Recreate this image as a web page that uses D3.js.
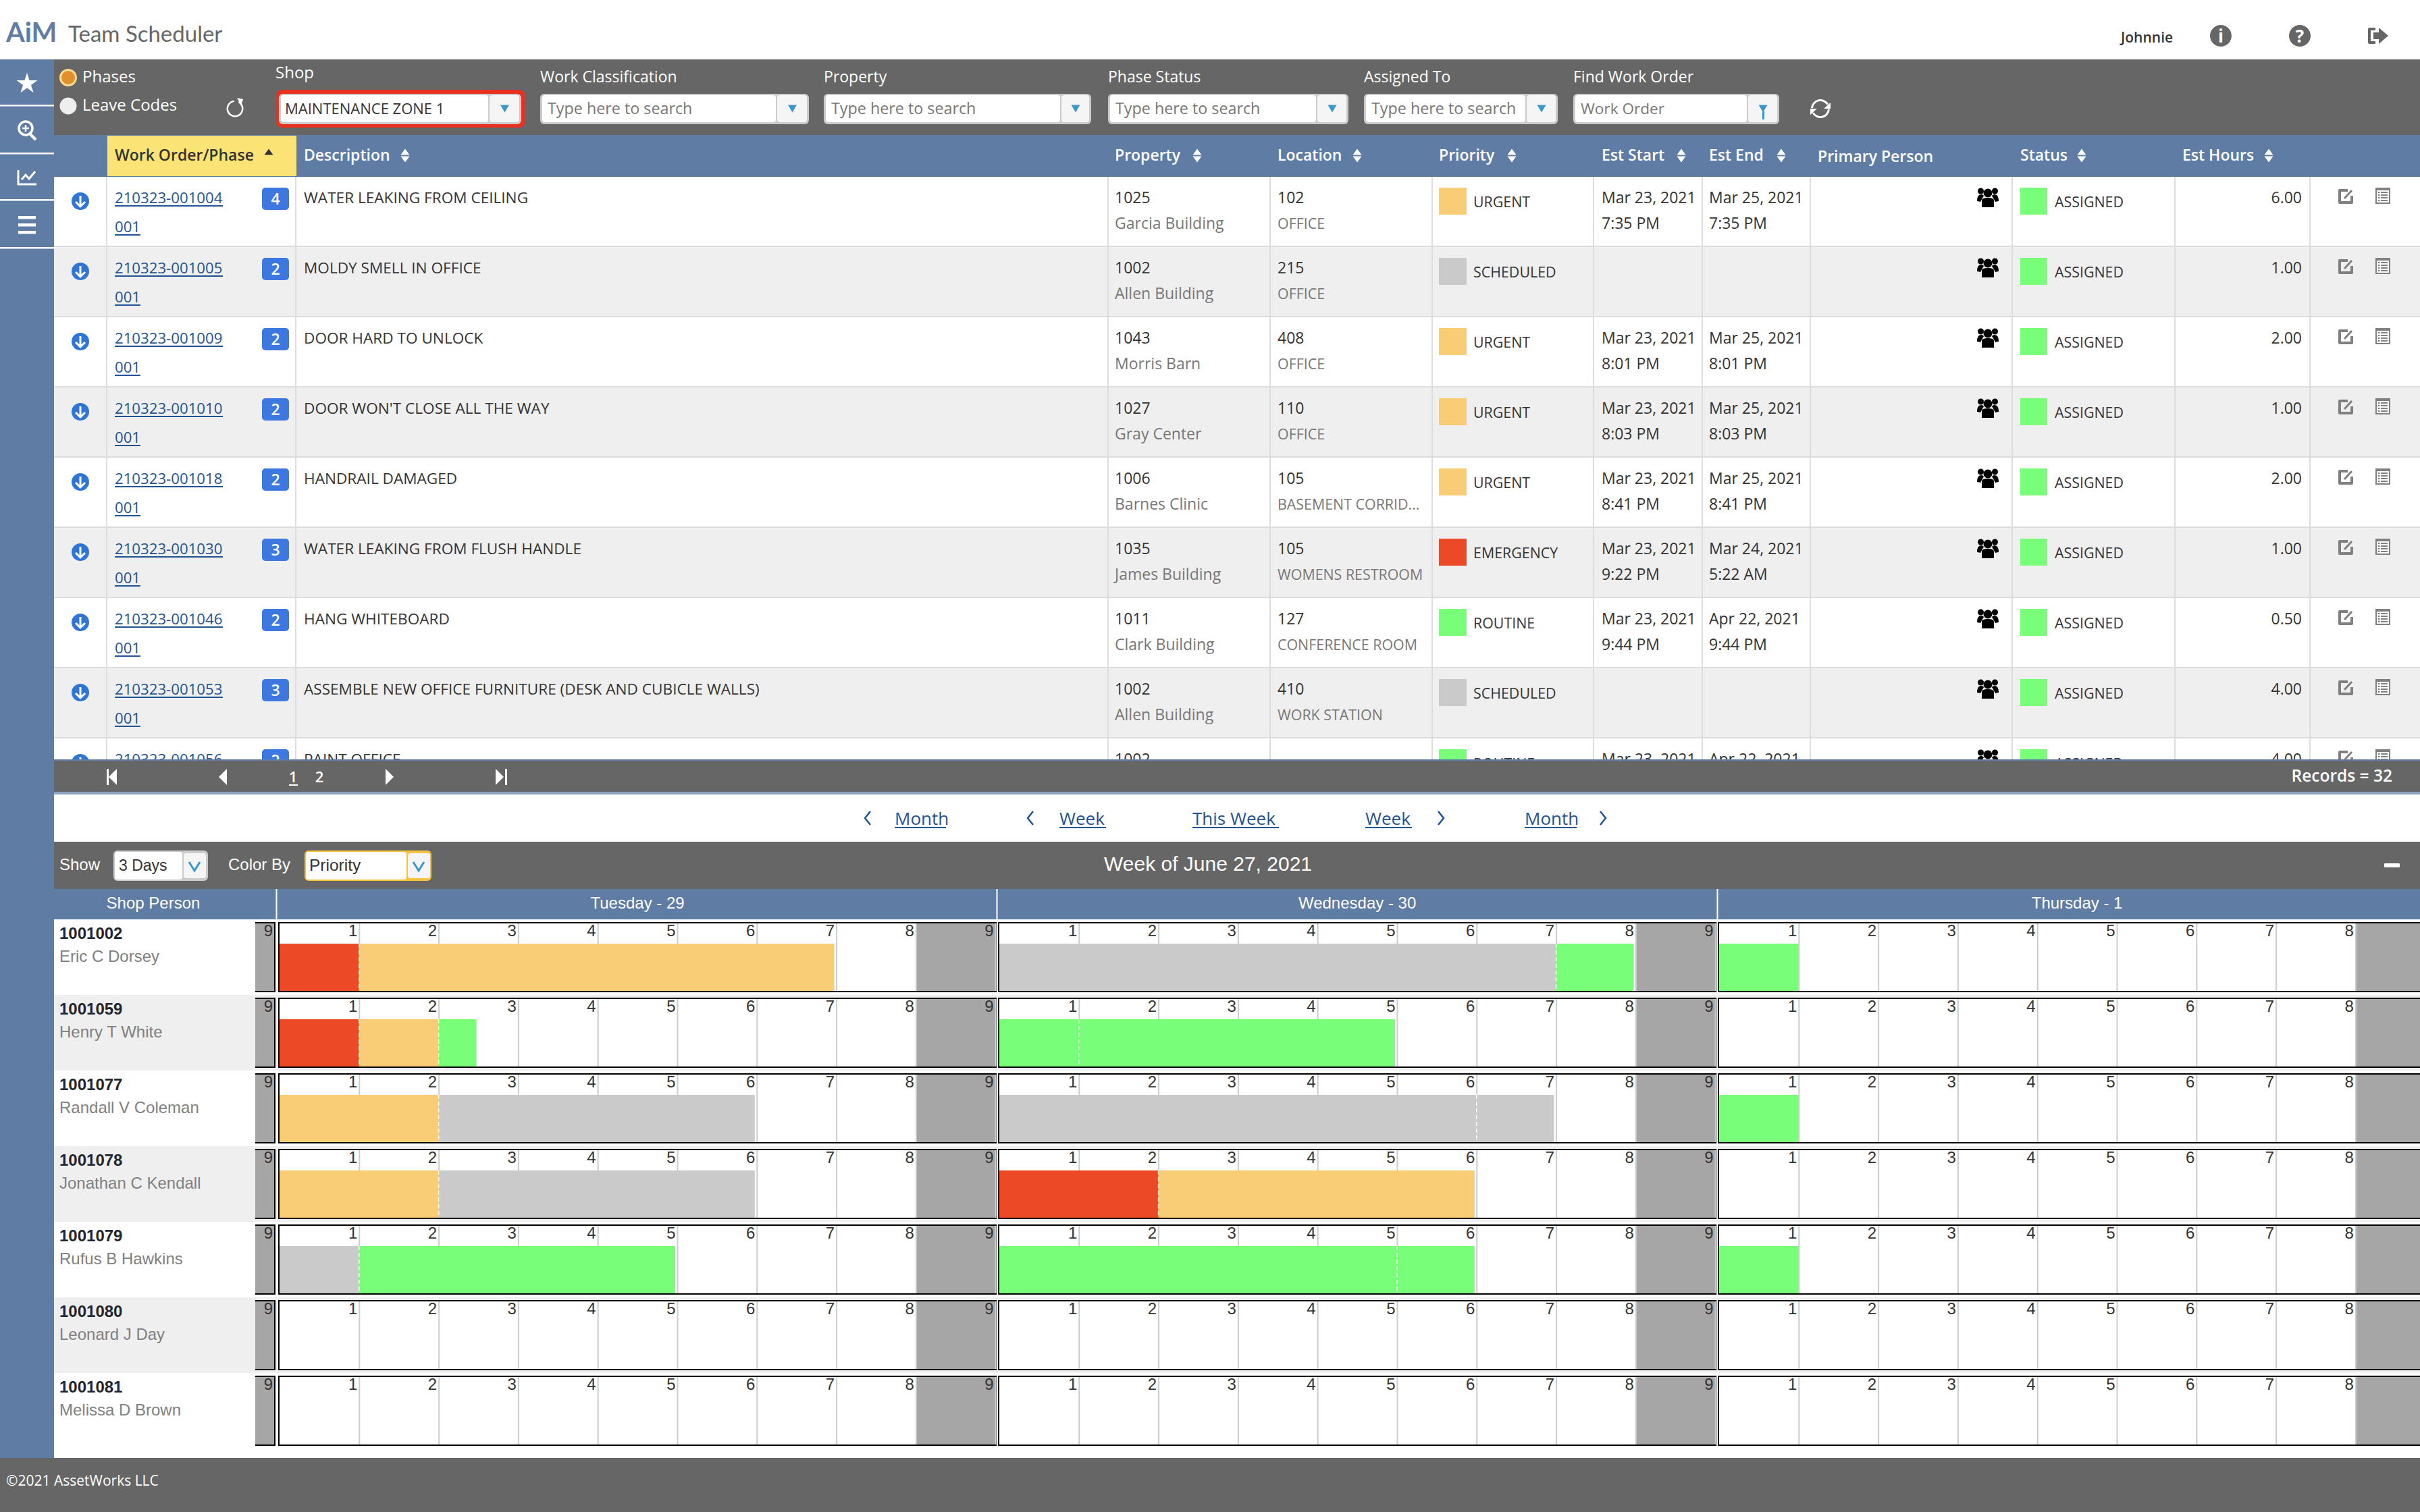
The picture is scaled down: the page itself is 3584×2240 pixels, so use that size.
<!DOCTYPE html>
<html>
<head>
<meta charset="utf-8">
<title>Team Scheduler</title>
<script src="https://cdn.jsdelivr.net/npm/d3@7"></script>
<style>
  html, body { margin: 0; padding: 0; background: #fff; }
  svg { display: block; }
  text { font-family: "Open Sans", sans-serif; }
  text.arial { font-family: "Liberation Sans", Arial, sans-serif; }
  text.lato { font-family: Lato, sans-serif; }
</style>
</head>
<body>
<svg id="chart" xmlns="http://www.w3.org/2000/svg"></svg>
<script>
// work order table
const woNumbers = ["210323-001004","210323-001005","210323-001009","210323-001010","210323-001018","210323-001030","210323-001046","210323-001053","210323-001056"];
const woPhases = ["001","001","001","001","001","001","001","001","001"];
const woBadges = [4,2,2,2,2,3,2,3,2];
const woDescriptions = ["WATER LEAKING FROM CEILING","MOLDY SMELL IN OFFICE","DOOR HARD TO UNLOCK","DOOR WON'T CLOSE ALL THE WAY","HANDRAIL DAMAGED","WATER LEAKING FROM FLUSH HANDLE","HANG WHITEBOARD","ASSEMBLE NEW OFFICE FURNITURE (DESK AND CUBICLE WALLS)","PAINT OFFICE"];
const woPropertyIds = ["1025","1002","1043","1027","1006","1035","1011","1002","1002"];
const woPropertyNames = ["Garcia Building","Allen Building","Morris Barn","Gray Center","Barnes Clinic","James Building","Clark Building","Allen Building","Allen Building"];
const woLocationIds = ["102","215","408","110","105","105","127","410",""];
const woLocationNames = ["OFFICE","OFFICE","OFFICE","OFFICE","BASEMENT CORRID...","WOMENS RESTROOM","CONFERENCE ROOM","WORK STATION",""];
const woPriorities = ["URGENT","SCHEDULED","URGENT","URGENT","URGENT","EMERGENCY","ROUTINE","SCHEDULED","ROUTINE"];
const woStartDates = ["Mar 23, 2021","","Mar 23, 2021","Mar 23, 2021","Mar 23, 2021","Mar 23, 2021","Mar 23, 2021","","Mar 23, 2021"];
const woStartTimes = ["7:35 PM","","8:01 PM","8:03 PM","8:41 PM","9:22 PM","9:44 PM","",""];
const woEndDates = ["Mar 25, 2021","","Mar 25, 2021","Mar 25, 2021","Mar 25, 2021","Mar 24, 2021","Apr 22, 2021","","Apr 22, 2021"];
const woEndTimes = ["7:35 PM","","8:01 PM","8:03 PM","8:41 PM","5:22 AM","9:44 PM","",""];
const woHours = [6,1,2,1,2,1,0.5,4,4];

const tableHeaders = ["Work Order/Phase","Description","Property","Location","Priority","Est Start","Est End","Primary Person","Status","Est Hours"];
const filterLabels = ["Work Classification","Property","Phase Status","Assigned To"];

// schedule
const personIds = ["1001002","1001059","1001077","1001078","1001079","1001080","1001081"];
const personNames = ["Eric C Dorsey","Henry T White","Randall V Coleman","Jonathan C Kendall","Rufus B Hawkins","Leonard J Day","Melissa D Brown"];
const dayLabels = ["Tuesday - 29","Wednesday - 30","Thursday - 1"];
const hourTicks = [1,2,3,4,5,6,7,8,9];

// [priority, start hour, end hour] per person
const tuesdayBlocks = [
  [["EMERGENCY",0,1],["URGENT",1,7]],
  [["EMERGENCY",0,1],["URGENT",1,2],["ROUTINE",2,2.5]],
  [["URGENT",0,2],["SCHEDULED",2,6]],
  [["URGENT",0,2],["SCHEDULED",2,6]],
  [["SCHEDULED",0,1],["ROUTINE",1,5]],
  [],
  []
];
const wednesdayBlocks = [
  [["SCHEDULED",0,7],["ROUTINE",7,8]],
  [["ROUTINE",0,1],["ROUTINE",1,5]],
  [["SCHEDULED",0,6],["SCHEDULED",6,7]],
  [["EMERGENCY",0,2],["URGENT",2,6]],
  [["ROUTINE",0,5],["ROUTINE",5,6]],
  [],
  []
];
const thursdayBlocks = [
  [["ROUTINE",0,1]],
  [],
  [["ROUTINE",0,1]],
  [],
  [["ROUTINE",0,1]],
  [],
  []
];
const dayBlocks = [tuesdayBlocks, wednesdayBlocks, thursdayBlocks];

const BLUE = "#5f7ca5", GRAY = "#666666", LINK = "#1f5392", ALT = "#efefef", RULE = "#dddddd", ARROW = "#3d96c8";
const TXT = 23, CAPS = 21.4;
const priorityColor = d3.scaleOrdinal()
  .domain(["EMERGENCY","URGENT","ROUTINE","SCHEDULED"])
  .range(["#ec4a26","#f8cd76","#79fe79","#cacaca"]);

const svg = d3.select("#chart").attr("width", 3584).attr("height", 2240).attr("viewBox", "0 0 3584 2240");

function rect(p, x, y, w, h, fill, rx) {
  return p.append("rect").attr("x", x).attr("y", y).attr("width", w).attr("height", h).attr("fill", fill).attr("rx", rx || 0);
}
function label(p, x, y, str, size, fill, opts) {
  opts = opts || {};
  return p.append("text").attr("x", x).attr("y", y).text(str)
    .attr("font-size", size).attr("fill", fill)
    .attr("font-weight", opts.weight || 400)
    .attr("text-anchor", opts.anchor || "start")
    .attr("class", opts.arial ? "arial" : opts.lato ? "lato" : null);
}
function tri(p, cx, cy, w, h, dir, fill) {
  const s = dir === "up" ? -1 : 1;
  return p.append("path").attr("fill", fill)
    .attr("d", `M${cx - w / 2},${cy - s * h / 2}L${cx + w / 2},${cy - s * h / 2}L${cx},${cy + s * h / 2}Z`);
}
function triSide(p, cx, cy, w, h, dir, fill) {
  const s = dir === "left" ? -1 : 1;
  return p.append("path").attr("fill", fill)
    .attr("d", `M${cx - s * w / 2},${cy - h / 2}L${cx - s * w / 2},${cy + h / 2}L${cx + s * w / 2},${cy}Z`);
}
function chevron(p, cx, cy, dir, color, w, h, sw) {
  const s = dir === "left" ? -1 : 1;
  return p.append("path").attr("fill", "none").attr("stroke", color).attr("stroke-width", sw || 2.5)
    .attr("d", `M${cx - s * w / 2},${cy - h / 2}L${cx + s * w / 2},${cy}L${cx - s * w / 2},${cy + h / 2}`);
}
function refreshSingle(p, cx, cy) {
  const g = p.append("g").attr("transform", `translate(${cx},${cy})`);
  const arc = d3.arc().innerRadius(10).outerRadius(12.5);
  g.append("path").attr("fill", "#fff").attr("d", arc({ startAngle: 0.5, endAngle: 2 * Math.PI - 0.1 }));
  g.append("path").attr("fill", "#fff").attr("d", "M3,-16L12,-14L9,-5Z");
}
function refreshDouble(p, cx, cy) {
  const g = p.append("g").attr("transform", `translate(${cx},${cy})`);
  const arc = d3.arc().innerRadius(11).outerRadius(14);
  g.append("path").attr("fill", "#fff").attr("d", arc({ startAngle: -1.5, endAngle: 1.05 }));
  g.append("path").attr("fill", "#fff").attr("d", arc({ startAngle: 1.65, endAngle: 4.2 }));
  g.append("path").attr("fill", "#fff").attr("d", "M15,-9L15,0L5,0Z M-15,9L-15,0L-5,0Z");
}
function sortIcon(p, cx) {
  tri(p, cx, 225, 13, 9, "up", "#fff");
  tri(p, cx, 236, 13, 9, "down", "#fff");
}

// page header
label(svg, 9, 62, "AiM", 40, BLUE, { weight: 700, lato: true });
label(svg, 101, 62, "Team Scheduler", 33, GRAY, { lato: true });
label(svg, 3141, 63, "Johnnie", 21, "#333", { weight: 600 });
const info = svg.append("g").attr("transform", "translate(3289,53)");
info.append("circle").attr("r", 16).attr("fill", GRAY);
label(info, 0, 10, "i", 26, "#fff", { anchor: "middle", weight: 700 });
const help = svg.append("g").attr("transform", "translate(3406,53)");
help.append("circle").attr("r", 16).attr("fill", GRAY);
label(help, 0, 10, "?", 26, "#fff", { anchor: "middle", weight: 700 });
const logout = svg.append("g").attr("transform", "translate(3521,53)");
logout.append("path").attr("fill", "none").attr("stroke", GRAY).attr("stroke-width", 4).attr("stroke-linejoin", "round").attr("d", "M-3,-10L-12,-10L-12,10L-3,10");
logout.append("path").attr("fill", GRAY).attr("d", "M-6,-5L2,-5L2,-12L16,0L2,12L2,5L-6,5Z");

// left sidebar
rect(svg, 0, 88, 80, 2072, BLUE);
[156, 227, 296, 367].forEach(y => rect(svg, 0, y - 1, 80, 2.5, "#fff"));
svg.append("path").attr("fill", "#fff").attr("transform", "translate(40,124)")
  .attr("d", d3.symbol().type(d3.symbolStar).size(300)());
const mag = svg.append("g").attr("transform", "translate(38,190)").attr("fill", "none").attr("stroke", "#fff");
mag.append("circle").attr("r", 10).attr("stroke-width", 3.5);
mag.append("path").attr("stroke-width", 4.5).attr("d", "M7,9L15,17");
mag.append("path").attr("stroke-width", 2.5).attr("d", "M-5,0L5,0M0,-5L0,5");
const chartIcon = svg.append("g").attr("transform", "translate(40,262)").attr("fill", "none").attr("stroke", "#fff");
chartIcon.append("path").attr("stroke-width", 3).attr("d", "M-13,-10L-13,11L14,11");
chartIcon.append("path").attr("stroke-width", 3).attr("d", "M-8,4L-2,-3L3,3L12,-8");
[320, 331, 342].forEach(y => rect(svg, 27, y, 26, 4.5, "#fff"));

// filter bar
rect(svg, 80, 88, 3504, 112, GRAY);
svg.append("circle").attr("cx", 101).attr("cy", 115).attr("r", 11.5).attr("fill", "#e2902f").attr("stroke", "#f9dc8f").attr("stroke-width", 3);
svg.append("circle").attr("cx", 101).attr("cy", 157).attr("r", 12.5).attr("fill", "#eeeeee");
label(svg, 122, 122, "Phases", 24, "#fff");
label(svg, 122, 164, "Leave Codes", 24, "#fff");
refreshSingle(svg, 348, 161);
label(svg, 408, 116, "Shop", 24, "#fff");

function selectBox(x, right, divider, text, size, placeholder) {
  rect(svg, x, 139, right - x, 45, "#cccccc", 6);
  rect(svg, x + 3, 141, divider - x - 3, 40, "#fff", 4);
  rect(svg, divider + 2, 141, right - divider - 5, 40, "#f5f5f5", 4);
  label(svg, x + (placeholder ? 11 : 9), 169, text, size, placeholder ? "#777" : "#333");
  tri(svg, (divider + right) / 2, 161, 13, 11, "down", ARROW);
}
rect(svg, 409, 133, 369, 56, "#e8321f", 9);
selectBox(413, 772, 723, "MAINTENANCE ZONE 1", 22, false);
[[800, 1198, 1149], [1220, 1616, 1570], [1641, 1997, 1949], [2020, 2307, 2259]].forEach((b, i) => {
  label(svg, b[0], 122, filterLabels[i], TXT, "#fff");
  selectBox(b[0], b[1], b[2], "Type here to search", 23.3, true);
});
label(svg, 2330, 122, "Find Work Order", TXT, "#fff");
selectBox(2330, 2635, 2587, "Work Order", 22.6, true);
rect(svg, 2610, 165, 3, 12, ARROW);
refreshDouble(svg, 2696, 161);

// work order table
const colEdges = [158, 438, 1641, 1881, 2121, 2360, 2521, 2681, 2980, 3221, 3421];
const headerX = [170, 450, 1651, 1892, 2131, 2372, 2531, 2692, 2992, 3232];
const sortX = [null, 600, 1773, 2010, 2239, 2490, 2638, null, 3083, 3360];

const defs = svg.append("defs");
defs.append("clipPath").attr("id", "tableClip").append("rect").attr("x", 80).attr("y", 262).attr("width", 3504).attr("height", 863);

rect(svg, 80, 200, 3504, 62, BLUE);
rect(svg, 159, 201, 280, 60, "#fbe376");
tableHeaders.forEach((h, i) => {
  label(svg, headerX[i], i === 7 ? 240 : 238, h, TXT, i === 0 ? "#333" : "#fff", { weight: 600 });
  if (sortX[i]) sortIcon(svg, sortX[i]);
});
tri(svg, 398, 225, 13, 9, "up", "#333");

const rowY = d3.scaleBand().domain(d3.range(woNumbers.length)).range([262, 262 + 104 * woNumbers.length]);
const table = svg.append("g").attr("clip-path", "url(#tableClip)");
const rows = table.selectAll("g.wo").data(woNumbers).join("g").attr("class", "wo")
  .attr("transform", (d, i) => `translate(0,${rowY(i)})`);

rows.append("rect").attr("x", 80).attr("width", 3504).attr("height", 102).attr("fill", (d, i) => i % 2 ? ALT : "#fff");
rows.append("rect").attr("x", 80).attr("y", 102).attr("width", 3504).attr("height", 2).attr("fill", RULE);
colEdges.forEach(x => {
  rows.append("rect").attr("x", x - 1).attr("width", 2).attr("height", 104).attr("fill", RULE);
});

rows.each(function (num, i) {
  const r = d3.select(this);
  // expand arrow
  r.append("circle").attr("cx", 119).attr("cy", 36).attr("r", 13).attr("fill", "#2e75d6");
  r.append("path").attr("fill", "none").attr("stroke", "#fff").attr("stroke-width", 3).attr("d", "M119,28L119,44M112,37L119,44L126,37");
  // work order link
  label(r, 170, 39, num, 22.2, LINK);
  rect(r, 170, 42, 160, 2, LINK);
  label(r, 170, 82, woPhases[i], 22.2, LINK);
  rect(r, 170, 85, 38, 2, LINK);
  rect(r, 388, 16, 40, 33, "#3d78e0", 5);
  label(r, 408, 41, woBadges[i], TXT, "#fff", { anchor: "middle", weight: 600 });

  label(r, 450, 39, woDescriptions[i], 22.6, "#333");
  label(r, 1651, 39, woPropertyIds[i], TXT, "#333");
  label(r, 1651, 77, woPropertyNames[i], TXT, "#777");
  label(r, 1892, 39, woLocationIds[i], TXT, "#333");
  label(r, 1892, 77, woLocationNames[i], CAPS, "#777");

  rect(r, 2131, 16, 41, 40, priorityColor(woPriorities[i]));
  label(r, 2182, 45, woPriorities[i], CAPS, "#333");
  label(r, 2372, 39, woStartDates[i], TXT, "#333");
  label(r, 2372, 77, woStartTimes[i], TXT, "#333");
  label(r, 2531, 39, woEndDates[i], TXT, "#333");
  label(r, 2531, 77, woEndTimes[i], TXT, "#333");

  // primary person icon
  const people = r.append("g").attr("transform", "translate(2944,32)").attr("fill", "#000");
  [[-10.5, -11, 4.5], [10.5, -11, 4.5], [0, -8, 6.5]].forEach(c => people.append("circle").attr("cx", c[0]).attr("cy", c[1]).attr("r", c[2]));
  people.append("path").attr("d", "M-16,4Q-16,-6,-10,-6Q-7,-6,-6,-4L-10,3L-11,5ZM16,4Q16,-6,10,-6Q7,-6,6,-4L10,3L11,5ZM-9,13L-9,3Q-9,-1,0,-1Q9,-1,9,3L9,13Z");

  rect(r, 2992, 16, 40, 40, priorityColor("ROUTINE"));
  label(r, 3043, 45, "ASSIGNED", CAPS, "#333");
  label(r, 3409, 39, d3.format(".2f")(woHours[i]), TXT, "#333", { anchor: "end" });

  // edit and list icons
  const edit = r.append("g").attr("transform", "translate(3474,29)").attr("fill", "none").attr("stroke", "#808080");
  edit.append("path").attr("stroke-width", 4).attr("stroke-linejoin", "round").attr("d", "M3,-9L-9,-9L-9,9L9,9L9,-1");
  edit.append("path").attr("stroke-width", 3).attr("d", "M-2,3L9,-9");
  const list = r.append("g").attr("transform", "translate(3529,28)");
  rect(list, -11, -12, 22, 24, "#808080");
  rect(list, -9, -8, 18, 18, "#fff");
  [-6, -2, 2, 6].forEach(y => { rect(list, -7, y, 2.5, 2, "#808080"); rect(list, -3, y, 10, 2, "#808080"); });
});

// pagination bar
rect(svg, 80, 1125, 3504, 2, BLUE);
rect(svg, 80, 1127, 3504, 46, GRAY);
rect(svg, 80, 1173, 3504, 4, "#8ea3c2");
const pg = svg.append("g");
rect(pg, 158, 1139, 3, 24, "#fff");
triSide(pg, 167, 1151, 12, 24, "left", "#fff");
triSide(pg, 330, 1151, 12, 24, "left", "#fff");
label(pg, 434, 1159, "1", 22, "#fff", { anchor: "middle", weight: 600 });
rect(pg, 428, 1162, 13, 2, "#fff");
label(pg, 473, 1159, "2", 22, "#fff", { anchor: "middle", weight: 600 });
triSide(pg, 577, 1151, 12, 24, "right", "#fff");
triSide(pg, 740, 1151, 12, 24, "right", "#fff");
rect(pg, 748, 1139, 3, 24, "#fff");
label(svg, 3543, 1158, "Records = 32", 24.5, "#fff", { anchor: "end", weight: 600 });

// week navigation
const navLabels = ["Month","Week","This Week","Week","Month"];
const navX = [1325, 1569, 1766, 2022, 2258];
const navW = [76, 69, 128, 69, 77];
navLabels.forEach((t, i) => {
  label(svg, navX[i], 1222, t, 26, LINK);
  rect(svg, navX[i], 1225, navW[i], 2, LINK);
});
chevron(svg, 1285, 1212, "left", LINK, 8, 20);
chevron(svg, 1526, 1212, "left", LINK, 8, 20);
chevron(svg, 2134, 1212, "right", LINK, 8, 20);
chevron(svg, 2374, 1212, "right", LINK, 8, 20);

// schedule toolbar
rect(svg, 80, 1247, 3504, 70, GRAY);
label(svg, 88, 1289, "Show", 24, "#fff", { arial: true });
rect(svg, 168, 1260, 140, 45, "#cccccc", 6);
rect(svg, 170, 1262, 100, 41, "#fff", 4);
rect(svg, 272, 1264, 33, 37, "#f5f5f5", 4);
label(svg, 176, 1290, "3 Days", 23, "#333", { arial: true });
svg.append("path").attr("fill", "none").attr("stroke", ARROW).attr("stroke-width", 3).attr("d", "M280,1277L288,1290L296,1277");
label(svg, 338, 1289, "Color By", 24, "#fff", { arial: true });
rect(svg, 451, 1260, 188, 45, "#f5c242", 6);
rect(svg, 453, 1262, 149, 41, "#fff", 4);
rect(svg, 604, 1264, 33, 37, "#f5f5f5", 4);
label(svg, 458, 1290, "Priority", 24.5, "#333", { arial: true });
svg.append("path").attr("fill", "none").attr("stroke", ARROW).attr("stroke-width", 3).attr("d", "M612,1277L620,1290L628,1277");
label(svg, 1789, 1290, "Week of June 27, 2021", 30, "#fff", { anchor: "middle", arial: true });
rect(svg, 3531, 1279, 23, 6, "#fff", 1);

// schedule grid
const dayLeft = [414, 1480, 2546];
const hourStep = 117.8;
const dayX = dayLeft.map(l => d3.scaleLinear().domain([0, 9]).range([l, l + 9 * hourStep]));
const personY = d3.scaleBand().domain(personIds).range([1362, 1362 + 112 * personIds.length]);

rect(svg, 80, 1317, 3504, 45, BLUE);
label(svg, 227, 1346, "Shop Person", 24, "#fff", { anchor: "middle", arial: true });
[409.5, 1476.5, 2543.5].forEach(x => rect(svg, x - 1, 1317, 2, 45, "#fff"));
dayLabels.forEach((d, i) => {
  label(svg, (dayX[i](0) + dayX[i](9)) / 2, 1346, d, 24, "#fff", { anchor: "middle", arial: true });
});

const grid = svg.append("g");
const persons = grid.selectAll("g.person").data(personIds).join("g").attr("class", "person")
  .attr("transform", d => `translate(0,${personY(d)})`);

persons.append("rect").attr("x", 80).attr("width", 3504).attr("height", personY.bandwidth())
  .attr("fill", (d, i) => i % 2 ? ALT : "#fff");

persons.each(function (id, p) {
  const g = d3.select(this);
  label(g, 88, 29, id, 24, "#22262c", { weight: 700, arial: true });
  label(g, 88, 63, personNames[p], 24, "#808080", { arial: true });

  // closing hour stub of the previous day
  rect(g, 378, 4, 30, 104, "#000");
  rect(g, 378, 6, 28, 100, "#a6a6a6");
  label(g, 404, 25, "9", 24, "#333", { anchor: "end", arial: true });

  dayLabels.forEach((dayName, d) => {
    const x = dayX[d];
    const box = g.append("g");
    rect(box, x(0) - 2, 4, x(9) - x(0) + 4, 104, "#000");
    rect(box, x(0), 6, x(9) - x(0), 100, "#fff");
    rect(box, x(8), 6, x(9) - x(8), 100, "#a6a6a6");

    // the Thursday closing hour runs past the right edge of the page
    const axis = d3.axisBottom(x).tickValues(hourTicks.filter(h => x(h) < 3584))
      .tickSizeInner(100).tickSizeOuter(0).tickFormat(d3.format("d"));
    const ax = box.append("g").attr("transform", "translate(0,6)").call(axis);
    ax.select(".domain").remove();
    ax.selectAll(".tick line").attr("stroke", "#cccccc").attr("stroke-width", 2);
    ax.selectAll(".tick text").attr("y", 19).attr("dy", 0).attr("x", -3).attr("text-anchor", "end")
      .attr("font-size", 24).attr("fill", "#333").attr("class", "arial");

    const blocks = dayBlocks[d][p];
    const follows = (b, k) => k < blocks.length - 1 && blocks[k + 1][1] === b[2];
    const endGap = d === 2 ? 0 : 3;
    box.selectAll("rect.block").data(blocks).join("rect").attr("class", "block")
      .attr("x", b => x(b[1])).attr("y", 36)
      .attr("width", (b, k) => x(b[2]) - x(b[1]) - (follows(b, k) ? 0 : endGap)).attr("height", 70)
      .attr("fill", b => priorityColor(b[0]));
    // dashed seam where one assignment follows another
    box.selectAll("line.seam").data(blocks.filter((b, k) => k > 0 && blocks[k - 1][2] === b[1])).join("line")
      .attr("class", "seam")
      .attr("x1", b => x(b[1])).attr("x2", b => x(b[1]))
      .attr("y1", 36).attr("y2", 106)
      .attr("stroke", "#fff").attr("stroke-width", 1.5).attr("stroke-dasharray", "6,4");
  });
});

// footer
rect(svg, 0, 2160, 3584, 80, GRAY);
label(svg, 9, 2201, "©2021 AssetWorks LLC", 21, "#fff");
</script>
</body>
</html>
